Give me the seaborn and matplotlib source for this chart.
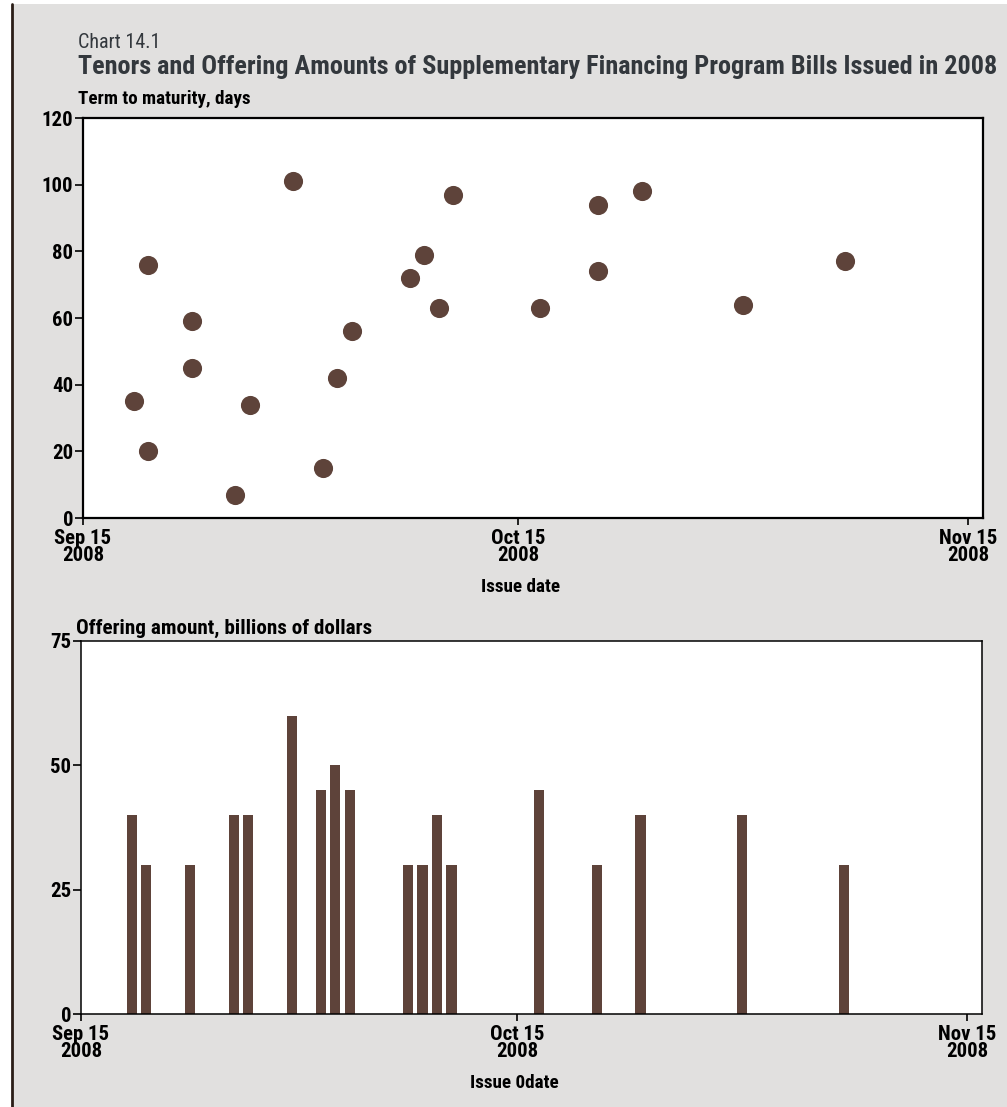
import matplotlib
matplotlib.use("Agg")
import matplotlib.pyplot as plt
import matplotlib.dates as mdates
import matplotlib.font_manager as fm
from matplotlib.patches import Rectangle
from matplotlib.lines import Line2D
import seaborn as sns
import pandas as pd
import numpy as np

# ---- data ----
tenor_dates = ["2008-09-18", "2008-09-19", "2008-09-19", "2008-09-22", "2008-09-22",
               "2008-09-25", "2008-09-26", "2008-09-29", "2008-10-01", "2008-10-02",
               "2008-10-03", "2008-10-07", "2008-10-08", "2008-10-09", "2008-10-10",
               "2008-10-16", "2008-10-20", "2008-10-20", "2008-10-23", "2008-10-30",
               "2008-11-06"]
tenor_days = [35, 76, 20, 59, 45, 7, 34, 101, 15, 42, 56, 72, 79, 63, 97, 63, 94, 74, 98, 64, 77]

amount_dates = ["2008-09-18", "2008-09-19", "2008-09-22", "2008-09-25", "2008-09-26",
                "2008-09-29", "2008-10-01", "2008-10-02", "2008-10-03", "2008-10-07",
                "2008-10-08", "2008-10-09", "2008-10-10", "2008-10-16", "2008-10-20",
                "2008-10-23", "2008-10-30", "2008-11-06"]
amount_bn = [40, 30, 30, 40, 40, 60, 45, 50, 45, 30, 30, 40, 30, 45, 30, 40, 40, 30]

x_ticks = ["2008-09-15", "2008-10-15", "2008-11-15"]
x_tick_labels = ["Sep 15\n2008", "Oct 15\n2008", "Nov 15\n2008"]
top_yticks = [0, 20, 40, 60, 80, 100, 120]
bot_yticks = [0, 25, 50, 75]

# ---- font choice: prefer a condensed face ----
entries = fm.fontManager.ttflist
names = {f.name for f in entries}
FAMILY, STRETCH = "DejaVu Sans", "normal"
for cand in ["Liberation Sans Narrow", "Roboto Condensed", "Noto Sans Condensed",
             "Open Sans Condensed", "DejaVu Sans Condensed"]:
    if cand in names:
        FAMILY = cand
        break
else:
    for fam in ["Noto Sans", "DejaVu Sans", "Open Sans", "Roboto"]:
        if any(f.name == fam and str(f.stretch) in ("condensed", "semi-condensed", "extra-condensed")
               for f in entries):
            FAMILY, STRETCH = fam, "condensed"
            break

sns.set_theme(style="white")
plt.rcParams["font.family"] = [FAMILY, "DejaVu Sans"]
plt.rcParams["font.stretch"] = STRETCH
plt.rcParams["text.color"] = "black"
plt.rcParams["xtick.color"] = "black"
plt.rcParams["ytick.color"] = "black"

COLOR = "#5e433a"
BG = "#e1e0df"
W, H = 1007, 1107

fig = plt.figure(figsize=(W / 100, H / 100), dpi=100, facecolor="white")
fig.patches.append(Rectangle((13 / W, 0), 1 - 13 / W, 1 - 4 / H, transform=fig.transFigure,
                             facecolor=BG, edgecolor="none", zorder=-10))
fig.lines.append(Line2D([12 / W, 12 / W], [0, 1 - 4 / H], transform=fig.transFigure,
                        color="#2a1d17", linewidth=2))
renderer = fig.canvas.get_renderer()


def fx(px):
    return px / W


def fy(py):
    return 1 - py / H


def fit_size(text, target_px, size=12, **kw):
    t = fig.text(0, 0, text, fontsize=size, **kw)
    w = t.get_window_extent(renderer).width
    t.remove()
    return size * target_px / w


WT = "bold"   # tick labels / axis captions are a heavy face in the reference
TICK = min(15, fit_size("Sep 15", 57, fontweight=WT))
CAP_TERM = fit_size("Term to maturity, days", 172, fontweight="semibold")
CAP_ISSUE = fit_size("Issue date", 79, fontweight="semibold")
CAP_OFFER = fit_size("Offering amount, billions of dollars", 296, fontweight="semibold")
CHART = fit_size("Chart 14.1", 82)
TITLE = "Tenors and Offering Amounts of Supplementary Financing Program Bills Issued in 2008"
TSIZE = fit_size(TITLE, 920, fontweight="bold")

# midday placement of each daily observation
half_day = 0.5
df_t = pd.DataFrame({"x": mdates.date2num(pd.to_datetime(tenor_dates)) + half_day,
                     "y": tenor_days})
df_a = pd.DataFrame({"x": mdates.date2num(pd.to_datetime(amount_dates)) + half_day,
                     "y": amount_bn})
xt = mdates.date2num(pd.to_datetime(x_ticks))
xlim = (mdates.date2num(pd.Timestamp("2008-09-15")), mdates.date2num(pd.Timestamp("2008-11-16")))


def style_axis(ax, yticks, lw):
    ax.set_xlim(*xlim)
    ax.set_ylim(yticks[0], yticks[-1])
    ax.set_yticks(yticks)
    ax.set_yticklabels([str(v) for v in yticks], fontweight=WT)
    ax.set_xticks(xt)
    ax.set_xticklabels(x_tick_labels, linespacing=0.85, fontweight=WT)
    ax.set_xlabel("")
    ax.set_ylabel("")
    for s in ax.spines.values():
        s.set_visible(True)
        s.set_color("black")
        s.set_linewidth(lw)
    ax.tick_params(axis="x", direction="out", length=5, width=1.2, labelsize=TICK, pad=3,
                   bottom=True)
    ax.tick_params(axis="y", direction="out", length=6, width=1.2, labelsize=TICK, pad=1,
                   left=True)


# ---- top: scatter ----
ax1 = fig.add_axes([fx(83), fy(518), fx(983 - 83), (518 - 118) / H])
ax1.set_facecolor("white")
sns.scatterplot(data=df_t, x="x", y="y", ax=ax1, color=COLOR, s=190, linewidth=0, zorder=3)
style_axis(ax1, top_yticks, 1.6)
fig.text(fx(78), fy(104), "Term to maturity, days", fontsize=CAP_TERM, fontweight="semibold",
         ha="left", va="baseline")
fig.text(fx(521), fy(592), "Issue date", fontsize=CAP_ISSUE, fontweight="semibold",
         ha="center", va="baseline")

# ---- bottom: bars ----
ax2 = fig.add_axes([fx(81), fy(1014), fx(982 - 81), (1014 - 641) / H])
ax2.set_facecolor("white")
sns.barplot(data=df_a, x="x", y="y", ax=ax2, native_scale=True, color=COLOR,
            saturation=1, width=0.7, linewidth=0, errorbar=None)
style_axis(ax2, bot_yticks, 1.1)
fig.text(fx(76), fy(634), "Offering amount, billions of dollars", fontsize=CAP_OFFER,
         fontweight="semibold", ha="left", va="baseline")
fig.text(fx(514), fy(1088), "Issue 0date", fontsize=CAP_ISSUE, fontweight="semibold",
         ha="center", va="baseline")

# ---- titles ----
fig.text(fx(78), fy(48), "Chart 14.1", fontsize=CHART, color="#33383d",
         ha="left", va="baseline")
fig.text(fx(78), fy(74), TITLE, fontsize=TSIZE, fontweight="bold", color="#33383d",
         ha="left", va="baseline")

fig.savefig("out.png", dpi=100, facecolor=fig.get_facecolor())
